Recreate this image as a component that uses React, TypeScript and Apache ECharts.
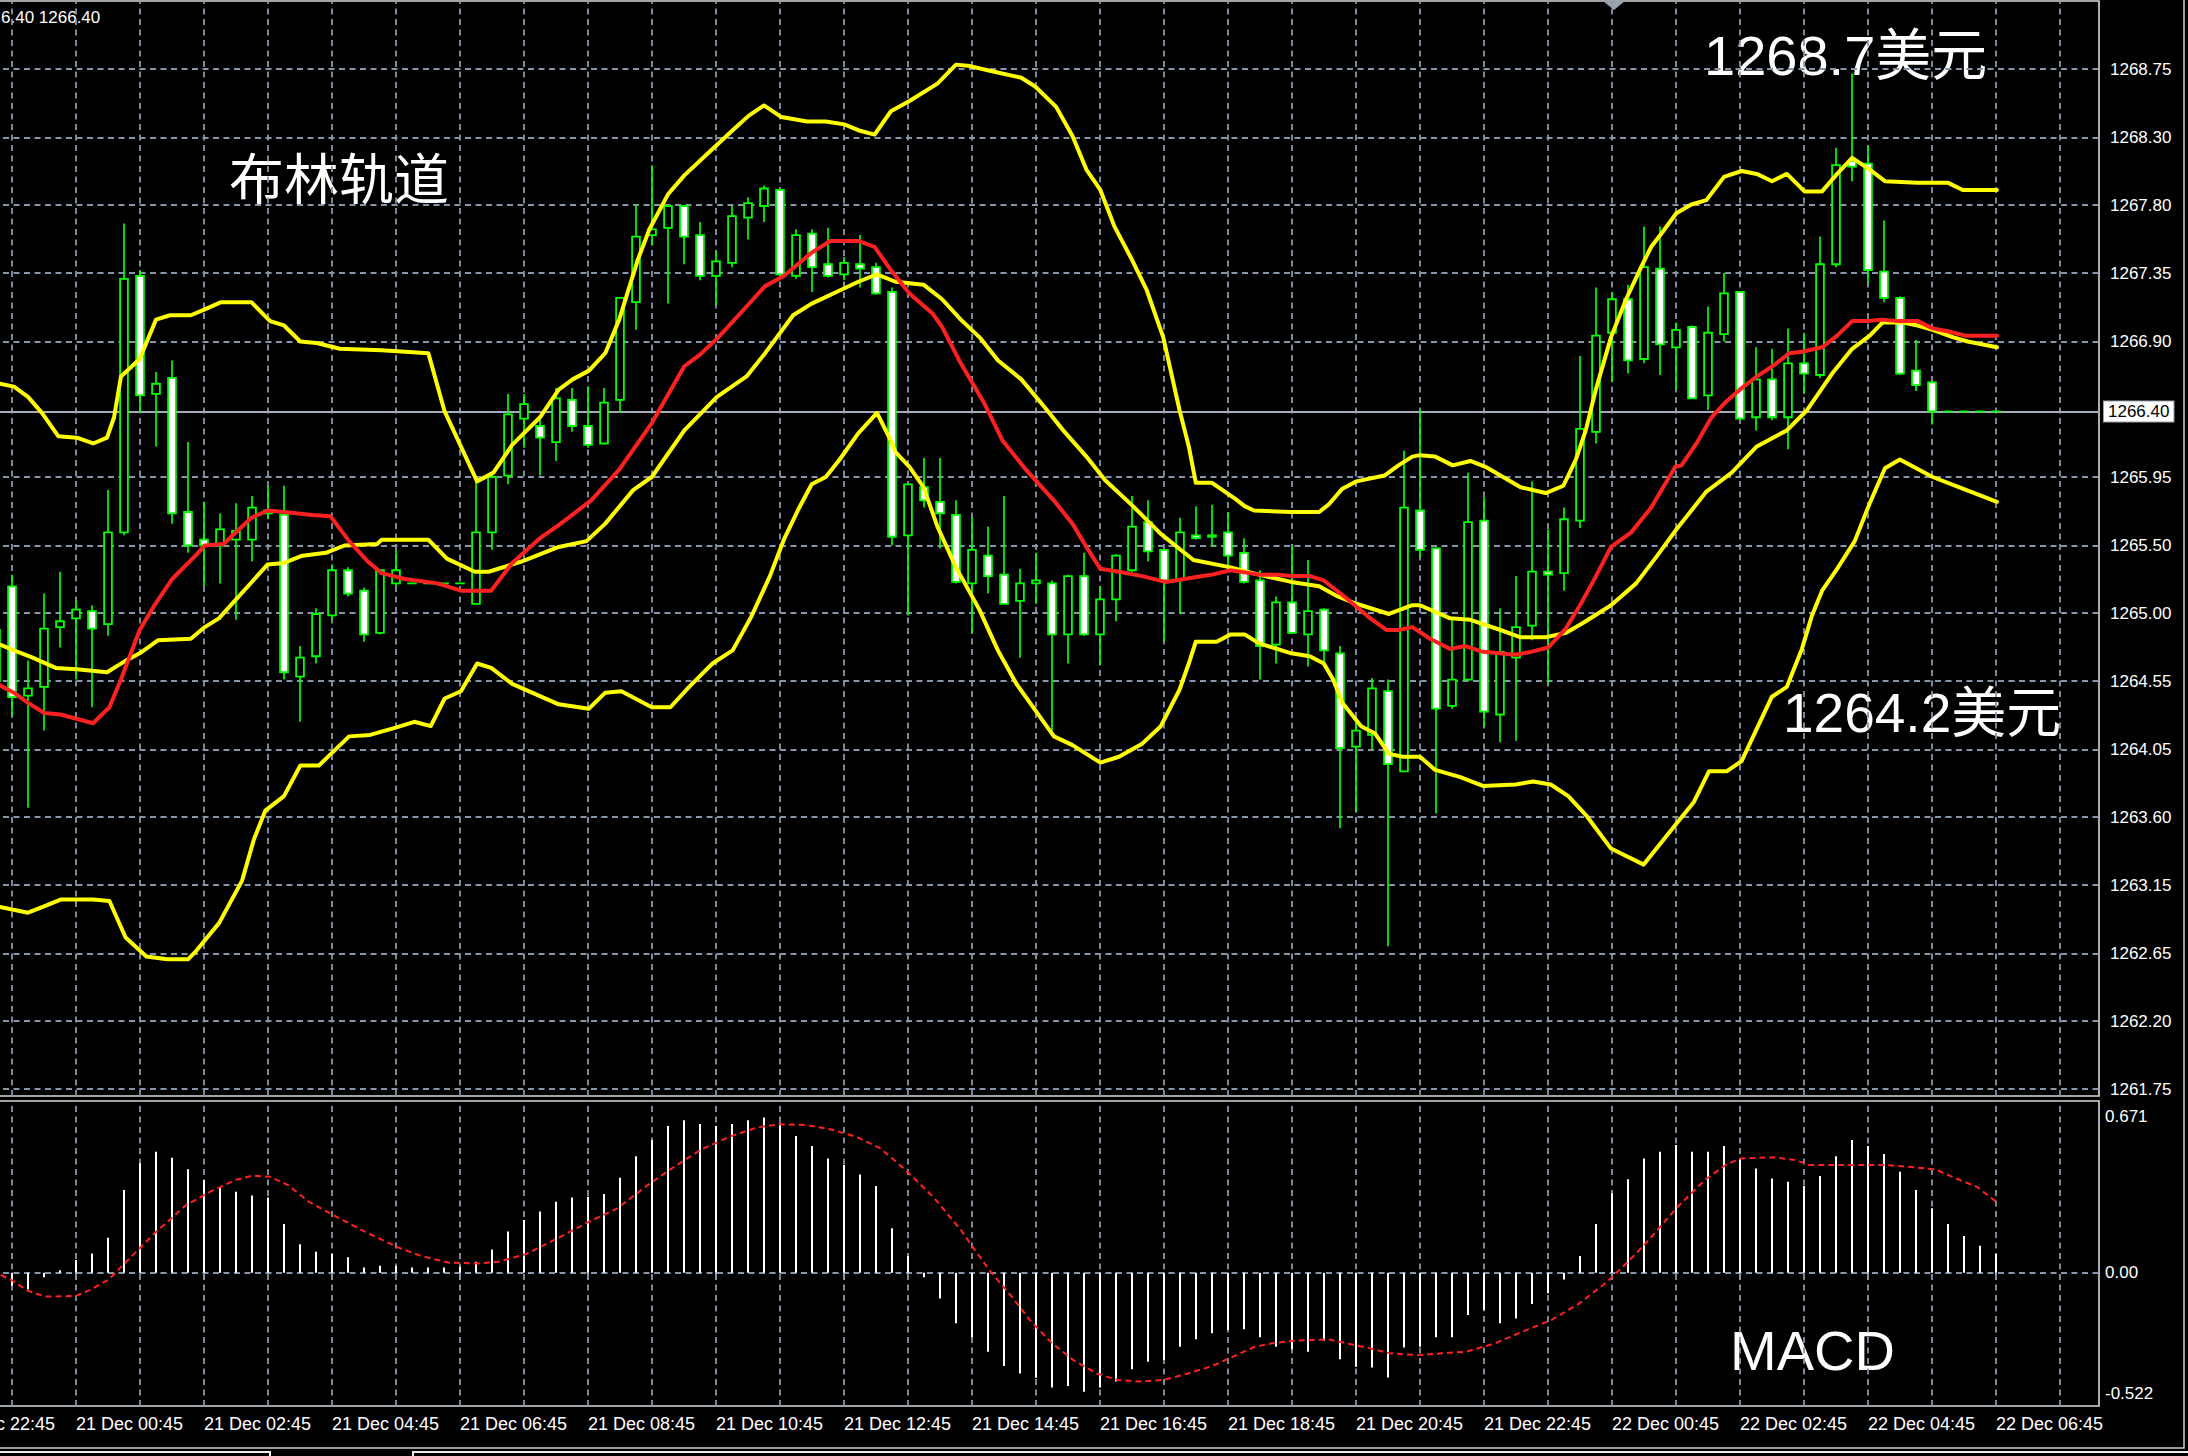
import React, { useEffect, useRef } from 'react';
import * as echarts from 'echarts';

// ---------------- DATA ----------------
// bar index 0 = 20 Dec 22:45, one bar = 15 minutes
const FIRST_BAR = 3;
// [open, close, low, high]
const candles: number[][] = [
  [1264.90, 1264.55, 1263.57, 1265.20],
  [1265.20, 1264.44, 1264.31, 1265.28],
  [1264.45, 1264.50, 1263.68, 1264.69],
  [1264.51, 1264.91, 1264.21, 1265.15],
  [1264.92, 1264.96, 1264.78, 1265.30],
  [1264.98, 1265.04, 1264.56, 1265.10],
  [1265.03, 1264.91, 1264.37, 1265.07],
  [1264.94, 1265.57, 1264.86, 1265.86],
  [1265.57, 1267.31, 1265.55, 1267.69],
  [1267.33, 1266.51, 1266.39, 1267.37],
  [1266.52, 1266.59, 1266.16, 1266.67],
  [1266.63, 1265.70, 1265.63, 1266.75],
  [1265.71, 1265.48, 1265.43, 1266.19],
  [1265.52, 1265.48, 1265.20, 1265.78],
  [1265.48, 1265.59, 1265.22, 1265.70],
  [1265.52, 1265.58, 1264.97, 1265.77],
  [1265.52, 1265.74, 1265.37, 1265.82],
  [1265.70, 1265.72, 1265.66, 1265.89],
  [1265.69, 1264.61, 1264.56, 1265.89],
  [1264.58, 1264.71, 1264.27, 1264.79],
  [1264.72, 1265.01, 1264.67, 1265.05],
  [1265.00, 1265.31, 1264.97, 1265.35],
  [1265.31, 1265.15, 1265.13, 1265.33],
  [1265.17, 1264.87, 1264.82, 1265.19],
  [1264.88, 1265.31, 1264.87, 1265.31],
  [1265.22, 1265.31, 1265.20, 1265.45],
  [1265.22, 1265.22, 1265.22, 1265.22],
  [1265.22, 1265.22, 1265.22, 1265.22],
  [1265.22, 1265.22, 1265.22, 1265.22],
  [1265.22, 1265.22, 1265.22, 1265.22],
  [1265.08, 1265.57, 1265.08, 1265.93],
  [1265.57, 1265.95, 1265.45, 1265.98],
  [1265.96, 1266.38, 1265.90, 1266.52],
  [1266.35, 1266.45, 1266.15, 1266.52],
  [1266.30, 1266.22, 1265.96, 1266.36],
  [1266.19, 1266.49, 1266.06, 1266.56],
  [1266.48, 1266.30, 1266.26, 1266.56],
  [1266.30, 1266.17, 1266.15, 1266.57],
  [1266.18, 1266.46, 1266.18, 1266.56],
  [1266.48, 1267.18, 1266.39, 1267.18],
  [1267.15, 1267.60, 1266.96, 1267.82],
  [1267.61, 1267.65, 1267.54, 1268.09],
  [1267.66, 1267.81, 1267.14, 1267.81],
  [1267.81, 1267.60, 1267.41, 1267.81],
  [1267.61, 1267.33, 1267.30, 1267.70],
  [1267.33, 1267.43, 1267.13, 1267.50],
  [1267.42, 1267.74, 1267.39, 1267.81],
  [1267.73, 1267.83, 1267.58, 1267.87],
  [1267.81, 1267.93, 1267.70, 1267.95],
  [1267.92, 1267.34, 1267.33, 1267.93],
  [1267.33, 1267.61, 1267.31, 1267.65],
  [1267.62, 1267.39, 1267.22, 1267.65],
  [1267.41, 1267.33, 1267.32, 1267.66],
  [1267.34, 1267.42, 1267.30, 1267.46],
  [1267.41, 1267.38, 1267.25, 1267.61],
  [1267.39, 1267.21, 1267.20, 1267.42],
  [1267.22, 1265.54, 1265.48, 1267.25],
  [1265.55, 1265.90, 1265.00, 1265.90],
  [1265.88, 1265.79, 1265.74, 1266.08],
  [1265.78, 1265.70, 1265.46, 1266.08],
  [1265.69, 1265.23, 1265.22, 1265.79],
  [1265.22, 1265.45, 1264.88, 1265.67],
  [1265.41, 1265.27, 1265.15, 1265.61],
  [1265.28, 1265.08, 1265.08, 1265.82],
  [1265.10, 1265.22, 1264.71, 1265.32],
  [1265.22, 1265.24, 1265.08, 1265.43],
  [1265.22, 1264.87, 1264.19, 1265.24],
  [1264.87, 1265.27, 1264.67, 1265.28],
  [1265.27, 1264.87, 1264.86, 1265.43],
  [1264.87, 1265.11, 1264.66, 1265.20],
  [1265.11, 1265.41, 1264.96, 1265.42],
  [1265.31, 1265.61, 1265.30, 1265.82],
  [1265.64, 1265.44, 1265.37, 1265.79],
  [1265.45, 1265.24, 1264.82, 1265.45],
  [1265.25, 1265.57, 1265.01, 1265.67],
  [1265.55, 1265.53, 1265.52, 1265.75],
  [1265.54, 1265.55, 1265.47, 1265.76],
  [1265.57, 1265.41, 1265.30, 1265.71],
  [1265.43, 1265.23, 1265.22, 1265.53],
  [1265.24, 1264.79, 1264.56, 1265.31],
  [1264.80, 1265.09, 1264.67, 1265.13],
  [1265.09, 1264.88, 1264.88, 1265.48],
  [1264.87, 1265.03, 1264.65, 1265.38],
  [1265.04, 1264.76, 1264.65, 1265.05],
  [1264.74, 1264.09, 1263.54, 1264.79],
  [1264.10, 1264.21, 1263.65, 1264.27],
  [1264.18, 1264.50, 1264.08, 1264.57],
  [1264.48, 1263.98, 1262.73, 1264.56],
  [1263.93, 1265.74, 1263.93, 1266.13],
  [1265.72, 1265.45, 1265.40, 1266.41],
  [1265.46, 1264.36, 1263.64, 1265.46],
  [1264.38, 1264.56, 1264.36, 1264.98],
  [1264.56, 1265.64, 1264.55, 1265.98],
  [1265.65, 1264.34, 1264.24, 1265.81],
  [1264.32, 1264.75, 1264.13, 1265.05],
  [1264.71, 1264.92, 1264.14, 1265.27],
  [1264.93, 1265.30, 1264.83, 1265.92],
  [1265.30, 1265.28, 1264.53, 1265.59],
  [1265.29, 1265.66, 1265.17, 1265.74],
  [1265.65, 1266.28, 1265.60, 1266.78],
  [1266.26, 1266.92, 1266.18, 1267.25],
  [1266.94, 1267.17, 1266.60, 1267.22],
  [1267.17, 1266.75, 1266.66, 1267.27],
  [1266.76, 1267.39, 1266.73, 1267.67],
  [1267.38, 1266.86, 1266.65, 1267.67],
  [1266.84, 1266.96, 1266.55, 1267.01],
  [1266.98, 1266.49, 1266.49, 1266.99],
  [1266.51, 1266.94, 1266.41, 1267.12],
  [1266.93, 1267.21, 1266.88, 1267.35],
  [1267.22, 1266.35, 1266.34, 1267.22],
  [1266.36, 1266.62, 1266.27, 1266.84],
  [1266.62, 1266.36, 1266.34, 1266.83],
  [1266.36, 1266.73, 1266.14, 1266.97],
  [1266.73, 1266.66, 1266.52, 1266.94],
  [1266.65, 1267.41, 1266.63, 1267.60],
  [1267.41, 1268.09, 1267.39, 1268.21],
  [1268.12, 1268.08, 1267.98, 1268.72],
  [1268.10, 1267.37, 1267.28, 1268.22],
  [1267.36, 1267.18, 1267.15, 1267.71],
  [1267.18, 1266.66, 1266.65, 1267.19],
  [1266.68, 1266.58, 1266.54, 1266.89],
  [1266.60, 1266.40, 1266.31, 1266.61],
  [1266.40, 1266.40, 1266.40, 1266.40],
  [1266.40, 1266.40, 1266.40, 1266.40],
  [1266.40, 1266.40, 1266.40, 1266.40],
  [1266.40, 1266.40, 1266.40, 1266.40],
];

// [bar index, price]
const bollingerUpper: number[][] = [
  [3.25, 1266.59], [4.12, 1266.57], [5.0, 1266.5], [5.87, 1266.39], [6.89, 1266.23], [8.05, 1266.22],
  [9.07, 1266.18], [9.94, 1266.22], [10.38, 1266.36], [10.81, 1266.64], [11.98, 1266.76], [13.0, 1267.03],
  [13.87, 1267.06], [15.18, 1267.06], [16.05, 1267.1], [17.07, 1267.15], [18.96, 1267.15], [20.13, 1267.02],
  [21.0, 1266.99], [22.02, 1266.88], [23.04, 1266.87], [24.49, 1266.83], [27.11, 1266.82], [30.02, 1266.8],
  [31.04, 1266.4], [33.07, 1265.92], [34.09, 1265.98], [35.26, 1266.17], [37.0, 1266.36], [38.17, 1266.55],
  [39.04, 1266.62], [40.06, 1266.68], [41.08, 1266.8], [41.95, 1267.03], [43.11, 1267.44], [43.84, 1267.65],
  [45.0, 1267.89], [46.02, 1268.02], [47.48, 1268.17], [49.04, 1268.33], [50.05, 1268.43], [51.0, 1268.5],
  [52.09, 1268.42], [53.69, 1268.39], [54.86, 1268.39], [56.02, 1268.37], [56.89, 1268.33], [57.91, 1268.3],
  [58.93, 1268.46], [60.09, 1268.53], [61.84, 1268.65], [63.0, 1268.78], [63.88, 1268.77], [65.04, 1268.74],
  [67.08, 1268.69], [67.95, 1268.63], [69.26, 1268.49], [70.28, 1268.29], [71.15, 1268.06], [72.02, 1267.92],
  [72.9, 1267.67], [73.91, 1267.46], [74.93, 1267.23], [75.95, 1266.91], [76.97, 1266.41], [77.55, 1266.16],
  [77.99, 1265.91], [79.0, 1265.91], [80.46, 1265.8], [81.04, 1265.75], [81.62, 1265.72], [83.95, 1265.71],
  [85.7, 1265.71], [86.28, 1265.76], [87.15, 1265.87], [88.03, 1265.92], [89.78, 1265.96], [90.65, 1266.03],
  [91.52, 1266.09], [92.0, 1266.1], [92.95, 1266.09], [94.05, 1266.03], [95.15, 1266.06], [96.09, 1266.02],
  [98.29, 1265.88], [99.86, 1265.84], [100.96, 1265.89], [101.74, 1266.07], [102.36, 1266.27], [102.99, 1266.55],
  [103.94, 1266.91], [104.88, 1267.17], [105.82, 1267.39], [106.45, 1267.53], [107.08, 1267.62], [108.02, 1267.76],
  [108.96, 1267.82], [109.9, 1267.85], [111.0, 1268.01], [112.1, 1268.05], [113.05, 1268.03], [114.0, 1267.98],
  [114.93, 1268.03], [116.03, 1267.91], [117.13, 1267.91], [118.07, 1268.03], [119.01, 1268.14], [120.11, 1268.06],
  [121.06, 1267.98], [123.1, 1267.97], [124.98, 1267.97], [125.92, 1267.92], [128.06, 1267.92],
];

const bollingerMiddle: number[][] = [
  [3.25, 1264.8], [4.12, 1264.76], [5.29, 1264.71], [6.74, 1264.64], [8.05, 1264.63], [9.94, 1264.61],
  [11.11, 1264.69], [11.98, 1264.74], [13.14, 1264.83], [15.18, 1264.84], [16.05, 1264.92], [16.93, 1264.98],
  [18.09, 1265.12], [19.98, 1265.35], [21.0, 1265.36], [22.16, 1265.41], [23.62, 1265.43], [24.78, 1265.48],
  [26.82, 1265.49], [27.11, 1265.52], [28.86, 1265.52], [30.02, 1265.52], [31.18, 1265.39], [32.93, 1265.3],
  [33.8, 1265.3], [35.84, 1265.37], [38.17, 1265.47], [39.91, 1265.51], [41.08, 1265.63], [42.82, 1265.86],
  [43.99, 1265.95], [46.02, 1266.27], [48.06, 1266.5], [49.91, 1266.64], [51.07, 1266.8], [52.82, 1267.06],
  [53.98, 1267.14], [55.73, 1267.23], [56.89, 1267.29], [58.06, 1267.34], [59.22, 1267.29], [60.97, 1267.27],
  [62.13, 1267.17], [63.3, 1267.03], [64.46, 1266.91], [65.63, 1266.75], [67.08, 1266.62], [68.53, 1266.43],
  [69.7, 1266.27], [71.15, 1266.09], [72.31, 1265.93], [74.06, 1265.75], [75.8, 1265.56], [77.84, 1265.38],
  [80.17, 1265.33], [81.92, 1265.28], [83.95, 1265.23], [85.7, 1265.2], [86.86, 1265.13], [88.03, 1265.08],
  [90.06, 1265.01], [91.52, 1265.07], [92.0, 1265.07], [93.89, 1264.98], [95.15, 1264.97], [97.03, 1264.9],
  [98.29, 1264.85], [99.86, 1264.85], [101.11, 1264.88], [102.21, 1264.95], [103.94, 1265.07], [105.51, 1265.22],
  [106.76, 1265.4], [108.02, 1265.59], [109.9, 1265.85], [111.48, 1265.98], [113.05, 1266.16], [114.93, 1266.27],
  [116.2, 1266.41], [117.76, 1266.66], [119.01, 1266.83], [120.11, 1266.92], [120.9, 1267.01], [122.16, 1267.01],
  [123.1, 1266.99], [124.04, 1266.96], [125.29, 1266.91], [126.23, 1266.88], [128.06, 1266.84],
];

const bollingerLower: number[][] = [
  [3.25, 1263.0], [5.0, 1262.96], [6.16, 1263.01], [7.03, 1263.05], [9.07, 1263.05], [10.09, 1263.04],
  [11.1, 1262.79], [12.4, 1262.66], [13.71, 1262.64], [15.0, 1262.64], [15.53, 1262.7], [16.95, 1262.89],
  [18.38, 1263.18], [19.11, 1263.46], [19.83, 1263.66], [21.0, 1263.76], [22.02, 1263.97], [23.18, 1263.97],
  [25.07, 1264.17], [26.38, 1264.18], [27.98, 1264.23], [29.14, 1264.27], [30.17, 1264.24], [31.04, 1264.43],
  [32.06, 1264.48], [33.07, 1264.67], [33.95, 1264.64], [35.26, 1264.53], [38.17, 1264.39], [40.06, 1264.36],
  [41.08, 1264.47], [42.09, 1264.48], [43.99, 1264.37], [45.15, 1264.37], [46.32, 1264.51], [47.78, 1264.67],
  [49.04, 1264.76], [50.2, 1264.99], [51.37, 1265.27], [52.24, 1265.52], [53.11, 1265.72], [53.98, 1265.9],
  [54.86, 1265.95], [55.73, 1266.07], [56.89, 1266.25], [58.06, 1266.39], [58.93, 1266.2], [59.22, 1266.12],
  [60.09, 1266.02], [60.97, 1265.88], [61.84, 1265.61], [63.0, 1265.33], [64.46, 1265.04], [65.62, 1264.76],
  [66.78, 1264.53], [67.95, 1264.35], [69.12, 1264.17], [70.28, 1264.11], [72.02, 1263.99], [73.19, 1264.03],
  [74.64, 1264.12], [75.8, 1264.24], [76.97, 1264.49], [77.55, 1264.67], [77.99, 1264.82], [79.29, 1264.82],
  [80.17, 1264.87], [81.04, 1264.87], [81.91, 1264.81], [83.95, 1264.74], [85.11, 1264.72], [85.99, 1264.67],
  [86.57, 1264.56], [87.15, 1264.4], [88.32, 1264.24], [89.19, 1264.19], [90.06, 1264.05], [90.93, 1264.03],
  [92.0, 1264.03], [92.95, 1263.94], [94.52, 1263.89], [95.93, 1263.83], [97.97, 1263.84], [99.07, 1263.86],
  [100.17, 1263.84], [101.27, 1263.76], [102.37, 1263.63], [103.94, 1263.4], [105.98, 1263.29], [108.02, 1263.57],
  [109.12, 1263.72], [110.06, 1263.93], [111.16, 1263.93], [112.1, 1264.0], [113.98, 1264.44], [114.93, 1264.51],
  [115.87, 1264.77], [116.5, 1265.0], [117.13, 1265.17], [118.07, 1265.32], [119.17, 1265.51], [120.11, 1265.77],
  [121.06, 1266.01], [121.99, 1266.07], [124.04, 1265.95], [125.92, 1265.87], [128.06, 1265.78],
];

const movingAverageRed: number[][] = [
  [3.25, 1264.52], [4.12, 1264.47], [5.0, 1264.4], [6.02, 1264.33], [7.03, 1264.32], [9.07, 1264.26],
  [10.09, 1264.37], [10.81, 1264.56], [11.98, 1264.9], [12.85, 1265.06], [14.01, 1265.25], [15.47, 1265.41],
  [16.05, 1265.48], [17.22, 1265.49], [18.96, 1265.67], [19.98, 1265.72], [21.0, 1265.71], [22.75, 1265.69],
  [23.91, 1265.68], [25.07, 1265.51], [26.24, 1265.37], [27.11, 1265.29], [28.56, 1265.25], [30.6, 1265.22],
  [32.06, 1265.17], [33.95, 1265.17], [35.26, 1265.36], [37.0, 1265.53], [38.17, 1265.62], [40.2, 1265.79],
  [41.95, 1266.0], [43.99, 1266.32], [46.02, 1266.71], [47.0, 1266.79], [48.16, 1266.91], [49.91, 1267.12],
  [51.07, 1267.26], [52.24, 1267.33], [53.98, 1267.49], [55.15, 1267.57], [56.89, 1267.57], [57.91, 1267.53],
  [58.93, 1267.37], [60.09, 1267.21], [61.55, 1267.07], [62.13, 1266.98], [63.3, 1266.73], [64.75, 1266.46],
  [65.91, 1266.2], [67.37, 1266.0], [69.11, 1265.79], [70.28, 1265.63], [71.15, 1265.47], [72.02, 1265.32],
  [73.19, 1265.3], [74.64, 1265.27], [76.1, 1265.23], [77.26, 1265.25], [78.42, 1265.27], [79.0, 1265.28],
  [80.17, 1265.31], [81.92, 1265.28], [83.08, 1265.28], [83.95, 1265.27], [85.11, 1265.27], [85.99, 1265.24],
  [87.15, 1265.14], [88.03, 1265.06], [88.9, 1264.98], [89.92, 1264.9], [90.65, 1264.9], [91.52, 1264.92],
  [92.63, 1264.84], [93.89, 1264.77], [94.83, 1264.79], [95.93, 1264.75], [97.97, 1264.73], [98.92, 1264.75],
  [100.02, 1264.78], [101.11, 1264.91], [102.06, 1265.08], [103.0, 1265.27], [103.94, 1265.47], [105.2, 1265.57],
  [106.45, 1265.74], [107.96, 1266.02], [108.34, 1266.03], [109.28, 1266.18], [110.22, 1266.36], [111.16, 1266.47],
  [112.1, 1266.56], [113.05, 1266.64], [114.15, 1266.72], [115.09, 1266.8], [115.87, 1266.81], [117.13, 1266.84],
  [118.07, 1266.92], [119.01, 1267.02], [119.96, 1267.02], [120.9, 1267.03], [121.84, 1267.02], [123.1, 1267.02],
  [124.04, 1266.97], [124.98, 1266.95], [126.08, 1266.92], [128.06, 1266.92],
];

const MACD_FIRST_BAR = 4;
const macdHistogram: number[] = [
  -0.056, -0.072, -0.02, 0.011, 0.055, 0.083, 0.151, 0.356, 0.471, 0.521,
  0.495, 0.445, 0.399, 0.366, 0.349, 0.332, 0.324, 0.21, 0.123, 0.09,
  0.08, 0.066, 0.022, 0.03, 0.029, 0.022, 0.022, 0.022, 0.026, 0.047,
  0.1, 0.177, 0.227, 0.263, 0.306, 0.324, 0.327, 0.339, 0.409, 0.502,
  0.571, 0.632, 0.657, 0.64, 0.632, 0.64, 0.657, 0.668, 0.646, 0.589,
  0.546, 0.492, 0.464, 0.423, 0.373, 0.191, 0.072, -0.02, -0.111, -0.218,
  -0.278, -0.34, -0.402, -0.434, -0.452, -0.494, -0.488, -0.513, -0.494, -0.469,
  -0.416, -0.383, -0.376, -0.319, -0.287, -0.261, -0.247, -0.244, -0.278, -0.319,
  -0.33, -0.34, -0.293, -0.373, -0.405, -0.408, -0.451, -0.322, -0.319, -0.278,
  -0.278, -0.182, -0.161, -0.218, -0.197, -0.135, -0.089, -0.029, 0.072, 0.21,
  0.342, 0.402, 0.492, 0.521, 0.55, 0.521, 0.521, 0.546, 0.488, 0.449,
  0.406, 0.392, 0.373, 0.416, 0.502, 0.571, 0.546, 0.511, 0.435, 0.356,
  0.277, 0.21, 0.158, 0.116, 0.08,
];

const macdSignal: number[][] = [
  [3.3, -0.01], [3.9, -0.029], [5.0, -0.078], [6.1, -0.103], [8.0, -0.1], [8.95, -0.072], [10.05, -0.029],
  [11.14, 0.047], [12.9, 0.169], [14.87, 0.291], [16.4, 0.349], [17.94, 0.399], [19.03, 0.418], [20.13, 0.413],
  [21.23, 0.378], [22.54, 0.306], [24.08, 0.248], [26.05, 0.177], [28.02, 0.112], [29.56, 0.072], [31.31, 0.043],
  [33.07, 0.04], [34.38, 0.047], [36.13, 0.08], [37.9, 0.141], [40.09, 0.22], [41.83, 0.277], [43.59, 0.37],
  [45.34, 0.454], [47.1, 0.531], [48.86, 0.586], [50.6, 0.626], [51.92, 0.639], [53.67, 0.636], [55.2, 0.617],
  [56.74, 0.586], [58.28, 0.535], [59.8, 0.445], [61.57, 0.327], [63.3, 0.184], [65.08, 0.011], [66.4, -0.096],
  [67.7, -0.211], [69.0, -0.304], [70.33, -0.376], [71.8, -0.434], [73.1, -0.462], [74.4, -0.469], [75.98, -0.462],
  [77.5, -0.434], [79.0, -0.402], [80.2, -0.365], [81.67, -0.319], [82.75, -0.304], [84.1, -0.293], [86.28, -0.287],
  [87.6, -0.307], [88.9, -0.326], [90.1, -0.347], [91.9, -0.355], [94.9, -0.34], [96.7, -0.304], [98.4, -0.254],
  [100.2, -0.204], [101.9, -0.135], [103.7, -0.039], [105.0, 0.047], [106.3, 0.141], [108.1, 0.284], [109.8, 0.399],
  [111.1, 0.464], [112.0, 0.492], [114.1, 0.497], [115.5, 0.485], [116.3, 0.464], [118.5, 0.464], [121.1, 0.464],
  [122.9, 0.454], [124.2, 0.445], [125.5, 0.406], [126.8, 0.37], [128.0, 0.306],
];

// tick labels
const timeTickLabels: string[] = [
  '20 Dec 22:45', '21 Dec 00:45', '21 Dec 02:45', '21 Dec 04:45', '21 Dec 06:45', '21 Dec 08:45',
  '21 Dec 10:45', '21 Dec 12:45', '21 Dec 14:45', '21 Dec 16:45', '21 Dec 18:45', '21 Dec 20:45',
  '21 Dec 22:45', '22 Dec 00:45', '22 Dec 02:45', '22 Dec 04:45', '22 Dec 06:45',
];
const TIME_TICK_EVERY = 8; // bars between time labels
const TIME_GRID_EVERY = 4; // bars between vertical grid lines
const priceTickLabels: string[] = [
  '1261.75', '1262.20', '1262.65', '1263.15', '1263.60', '1264.05', '1264.55', '1265.00',
  '1265.50', '1265.95', '', '1266.90', '1267.35', '1267.80', '1268.30', '1268.75',
];
const PRICE_TICK_BASE = 1261.75;
const PRICE_TICK_STEP = 7 / 15;
const LAST_PRICE = 1266.4;
const macdLabelValues: number[] = [0.671, 0, -0.522];
const macdTickLabels: string[] = ['0.671', '0.00', '-0.522'];

// ---------------- LAYOUT / STYLE ----------------
const W = 2188;
const H = 1456;
const X_MIN = -0.5;
const X_MAX = 134.4375;
const GRID_LEFT = -60;
const GRID_WIDTH = 2159;
const PRICE_MIN = 1261.702;
const PRICE_MAX = 1269.2167;
const MACD_MIN = -0.5741;
const MACD_MAX = 0.7394;
const FONT = "'Liberation Sans', Arial, 'Noto Sans CJK SC', sans-serif";
const CJK_FONT = "'Noto Sans CJK SC', 'Liberation Sans', sans-serif";
const GRID_COLOR = '#8795a8';
const BORDER = '#d6dade';
const YELLOW = '#ffff00';
const RED = '#ff2020';
const GREEN = '#00ff00';

function buildOption(): any {
  const priceTicks = priceTickLabels
    .map((l, k) => ({ v: PRICE_TICK_BASE + k * PRICE_TICK_STEP, l }))
    .filter((t) => t.l !== '');
  const priceTickValues = priceTicks.map((t) => t.v);
  const timeTickValues = timeTickLabels.map((_, k) => k * TIME_TICK_EVERY);
  const vGrid: number[] = [];
  for (let v = 0; v <= X_MAX; v += TIME_GRID_EVERY) vGrid.push(v);

  const gridLineStyle = { color: GRID_COLOR, width: 1.8, type: [6, 4.5] };
  const markBase = { silent: true, symbol: ['none', 'none'], label: { show: false }, z: 1, animation: false };

  const lineSeries = (data: number[][], color: string, width: number) => ({
    type: 'line',
    xAxisIndex: 0,
    yAxisIndex: 0,
    data,
    showSymbol: false,
    symbol: 'none',
    z: 3,
    silent: true,
    lineStyle: { color, width, join: 'round', cap: 'round' },
  });

  const textStyle = (text: string, size: number, family: string) => ({
    text, fill: '#ffffff', fontSize: size, fontFamily: family,
    align: 'left', verticalAlign: 'middle', textAlign: 'left', textVerticalAlign: 'middle',
  });

  return {
    backgroundColor: '#000000',
    animation: false,
    grid: [
      {
        left: GRID_LEFT, top: 1, width: GRID_WIDTH, height: 1095,
        show: true, borderColor: BORDER, borderWidth: 1.6, backgroundColor: 'transparent',
        containLabel: false, outerBoundsMode: 'none',
      },
      {
        left: GRID_LEFT, top: 1101, width: GRID_WIDTH, height: 305,
        show: true, borderColor: BORDER, borderWidth: 1.6, backgroundColor: 'transparent',
        containLabel: false, outerBoundsMode: 'none',
      },
    ],
    xAxis: [
      {
        type: 'value', gridIndex: 0, min: X_MIN, max: X_MAX,
        axisLine: { show: false }, axisTick: { show: false }, axisLabel: { show: false }, splitLine: { show: false },
      },
      {
        type: 'value', gridIndex: 1, min: X_MIN, max: X_MAX,
        axisLine: { show: false },
        axisTick: { show: true, customValues: timeTickValues, length: 7, inside: false, lineStyle: { color: BORDER, width: 1.6 } },
        axisLabel: {
          show: true, customValues: timeTickValues, align: 'left', margin: 9,
          color: '#ffffff', fontSize: 18, fontFamily: FONT,
          formatter: (v: number) => timeTickLabels[Math.round(v / TIME_TICK_EVERY)] ?? '',
        },
        splitLine: { show: false },
      },
    ],
    yAxis: [
      {
        type: 'value', gridIndex: 0, position: 'right', min: PRICE_MIN, max: PRICE_MAX,
        axisLine: { show: false },
        axisTick: { show: true, customValues: priceTickValues, length: 5, lineStyle: { color: BORDER, width: 1.6 } },
        axisLabel: {
          show: true, customValues: priceTickValues, margin: 11,
          color: '#ffffff', fontSize: 17, fontFamily: FONT,
          formatter: (v: number) => {
            const t = priceTicks.find((p) => Math.abs(p.v - v) < 1e-4);
            return t ? t.l : '';
          },
        },
        splitLine: { show: false },
      },
      {
        type: 'value', gridIndex: 1, position: 'right', min: MACD_MIN, max: MACD_MAX,
        axisLine: { show: false },
        axisTick: { show: true, customValues: [MACD_MAX, 0, MACD_MIN], length: 5, lineStyle: { color: BORDER, width: 1.6 } },
        axisLabel: {
          show: true, customValues: macdLabelValues, margin: 6,
          color: '#ffffff', fontSize: 17, fontFamily: FONT,
          formatter: (v: number) => {
            const k = macdLabelValues.findIndex((m) => Math.abs(m - v) < 1e-6);
            return k >= 0 ? macdTickLabels[k] : '';
          },
        },
        splitLine: { show: false },
      },
    ],
    series: [
      // main-chart grid lines
      {
        type: 'line', xAxisIndex: 0, yAxisIndex: 0, data: [], z: 1, silent: true,
        markLine: {
          ...markBase,
          lineStyle: gridLineStyle,
          data: [
            ...priceTickValues.map((v) => ({ yAxis: v })),
            ...vGrid.map((v) => ({ xAxis: v })),
          ],
        },
      },
      // MACD grid lines
      {
        type: 'line', xAxisIndex: 1, yAxisIndex: 1, data: [], z: 1, silent: true,
        markLine: {
          ...markBase,
          lineStyle: gridLineStyle,
          data: [{ yAxis: 0 }, ...vGrid.map((v) => ({ xAxis: v }))],
        },
      },
      // current price line with label box
      {
        type: 'line', xAxisIndex: 0, yAxisIndex: 0, data: [], z: 1, silent: true, clip: false,
        markLine: {
          silent: true, symbol: ['none', 'none'], z: 1, animation: false,
          lineStyle: { color: '#a3acb8', width: 1.8, type: 'solid' },
          label: {
            show: true, position: 'end', distance: 5,
            formatter: LAST_PRICE.toFixed(2),
            color: '#000000', backgroundColor: '#ffffff',
            borderColor: '#9aa3ae', borderWidth: 1,
            padding: [2, 4, 1, 4], fontSize: 17, fontFamily: FONT,
          },
          data: [{ yAxis: LAST_PRICE }],
        },
      },
      // candles
      {
        type: 'custom', xAxisIndex: 0, yAxisIndex: 0, z: 2, silent: true,
        encode: { x: 0, y: [1, 2, 3, 4] },
        data: candles.map((row, k) => [FIRST_BAR + k, row[0], row[1], row[2], row[3]]),
        renderItem: (_params: any, api: any) => {
          const x = api.value(0);
          const o = api.value(1);
          const c = api.value(2);
          const l = api.value(3);
          const h = api.value(4);
          const pH = api.coord([x, h]);
          const pL = api.coord([x, l]);
          const pO = api.coord([x, o]);
          const pC = api.coord([x, c]);
          const bw = 7.8;
          const top = Math.min(pO[1], pC[1]);
          const bh = Math.max(Math.abs(pO[1] - pC[1]), 0.01);
          return {
            type: 'group',
            children: [
              {
                type: 'line',
                shape: { x1: pH[0], y1: pH[1], x2: pL[0], y2: pL[1] },
                style: { stroke: GREEN, lineWidth: 1.7 },
              },
              {
                type: 'rect',
                shape: { x: pO[0] - bw / 2, y: top, width: bw, height: bh },
                style: { fill: c < o ? '#ffffff' : '#000000', stroke: GREEN, lineWidth: 1.8 },
              },
            ],
          };
        },
      },
      lineSeries(bollingerLower, YELLOW, 4),
      lineSeries(bollingerUpper, YELLOW, 4),
      lineSeries(bollingerMiddle, YELLOW, 4),
      lineSeries(movingAverageRed, RED, 4),
      // MACD histogram
      {
        type: 'bar', xAxisIndex: 1, yAxisIndex: 1, z: 2, silent: true,
        barWidth: 2,
        itemStyle: { color: '#ffffff' },
        data: macdHistogram.map((v, k) => [MACD_FIRST_BAR + k, v]),
      },
      // MACD signal
      {
        type: 'line', xAxisIndex: 1, yAxisIndex: 1, z: 3, silent: true,
        showSymbol: false, symbol: 'none',
        lineStyle: { color: RED, width: 2, type: [6, 4] },
        data: macdSignal,
      },
    ],
    graphic: [
      { type: 'text', x: 1, y: 17, silent: true, style: textStyle('6.40 1266.40', 17, FONT) },
      { type: 'text', x: 229, y: 175, silent: true, style: textStyle('布林轨道', 55, CJK_FONT) },
      { type: 'text', x: 1704, y: 55, silent: true, style: textStyle('1268.7美元', 56, FONT) },
      { type: 'text', x: 1783, y: 713, silent: true, style: textStyle('1264.2美元', 55, FONT) },
      { type: 'text', x: 1730, y: 1350, silent: true, style: textStyle('MACD', 56, FONT) },
      {
        type: 'polygon', silent: true,
        shape: { points: [[1603, 1], [1625, 1], [1614, 10]] },
        style: { fill: '#9aa3ae' },
      },
      // window frame and tab strip
      {
        type: 'polyline', silent: true,
        shape: { points: [[0, 1448], [2184, 1448], [2184, 0]] },
        style: { stroke: '#c8ccd0', lineWidth: 1.5, fill: 'none' },
      },
      {
        type: 'polyline', silent: true,
        shape: { points: [[0, 1452], [270, 1452], [270, 1456]] },
        style: { stroke: '#eeeeee', lineWidth: 2, fill: 'none' },
      },
      {
        type: 'polyline', silent: true,
        shape: { points: [[413, 1456], [413, 1452], [W, 1452]] },
        style: { stroke: '#eeeeee', lineWidth: 2, fill: 'none' },
      },
    ],
  };
}

export default function App() {
  const ref = useRef<HTMLDivElement>(null);
  useEffect(() => {
    document.body.style.margin = '0';
    document.body.style.background = '#000';
    const chart = echarts.init(ref.current as HTMLDivElement, null, { renderer: 'svg', width: W, height: H });
    chart.setOption(buildOption());
    return () => chart.dispose();
  }, []);
  return (
    <div
      ref={ref}
      style={{ position: 'fixed', left: 0, top: 0, width: W, height: H, background: '#000' }}
    />
  );
}
